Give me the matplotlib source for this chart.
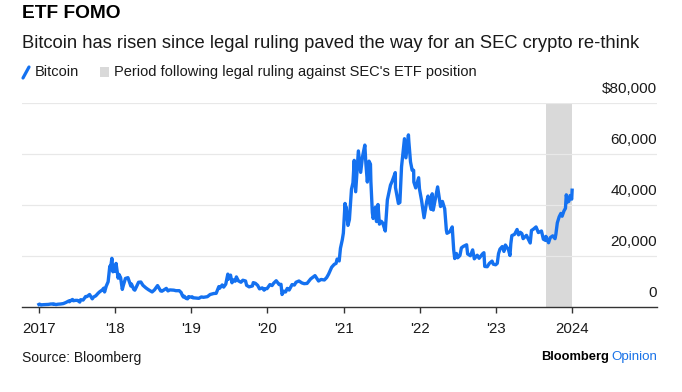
import numpy as np
import pandas as pd
import matplotlib
matplotlib.use('Agg')
import matplotlib.pyplot as plt
import matplotlib.transforms as mtransforms
from matplotlib.lines import Line2D
from matplotlib.patches import Rectangle

plt.rcParams['font.family'] = ['Liberation Sans', 'DejaVu Sans']

# bitcoin price, usd
dates_2017 = ['2017-01-01', '2017-01-04', '2017-01-11', '2017-01-20', '2017-02-01', '2017-02-15', '2017-03-01',
              '2017-03-10', '2017-03-12', '2017-03-24', '2017-04-01', '2017-04-15', '2017-04-28', '2017-05-10',
              '2017-05-25', '2017-05-27', '2017-06-06', '2017-06-11', '2017-06-15', '2017-06-25', '2017-07-05',
              '2017-07-16', '2017-07-20', '2017-08-01', '2017-08-13', '2017-08-20', '2017-09-01', '2017-09-14',
              '2017-09-20', '2017-10-01', '2017-10-12', '2017-10-20', '2017-11-01', '2017-11-08', '2017-11-12',
              '2017-11-20', '2017-11-29', '2017-12-07', '2017-12-10', '2017-12-17', '2017-12-22', '2017-12-27',
              '2017-12-31']
price_2017 = [998, 1130, 780, 900, 970, 1010, 1190, 1100, 1230, 930, 1080, 1180, 1340, 1750,
              2400, 2050, 2700, 2950, 2450, 2600, 2600, 1930, 2870, 2720, 4100, 4100, 4900, 3200,
              3900, 4400, 5400, 6000, 6700, 7400, 5900, 8200, 9900, 16000, 15000, 19100, 13800, 15700,
              14000]

dates_2018 = ['2018-01-06', '2018-01-16', '2018-01-20', '2018-01-28', '2018-02-05', '2018-02-10', '2018-02-20',
              '2018-03-04', '2018-03-18', '2018-03-21', '2018-04-01', '2018-04-06', '2018-04-24', '2018-05-05',
              '2018-05-15', '2018-05-29', '2018-06-10', '2018-06-28', '2018-07-09', '2018-07-24', '2018-08-08',
              '2018-08-14', '2018-08-29', '2018-09-04', '2018-09-12', '2018-09-21', '2018-10-10', '2018-10-20',
              '2018-11-05', '2018-11-14', '2018-11-20', '2018-11-25', '2018-11-29', '2018-12-07', '2018-12-15',
              '2018-12-20', '2018-12-28']
price_2018 = [17100, 11300, 12800, 11500, 6900, 8500, 11200, 11500, 8200, 9000, 6900, 6600, 9700, 9800,
              8500, 7500, 6800, 5900, 6700, 8400, 6300, 6200, 7000, 7300, 6300, 6700, 6600, 6400,
              6400, 5700, 4500, 3900, 4250, 3400, 3200, 4100, 3900]

dates_2019 = ['2019-01-06', '2019-01-10', '2019-01-20', '2019-02-07', '2019-02-19', '2019-03-01', '2019-03-20',
              '2019-04-02', '2019-04-20', '2019-05-01', '2019-05-14', '2019-05-17', '2019-05-30', '2019-06-06',
              '2019-06-16', '2019-06-26', '2019-06-27', '2019-07-09', '2019-07-16', '2019-07-20', '2019-07-31',
              '2019-08-06', '2019-08-15', '2019-08-28', '2019-09-06', '2019-09-19', '2019-09-24', '2019-10-06',
              '2019-10-22', '2019-10-26', '2019-11-05', '2019-11-16', '2019-11-25', '2019-12-08', '2019-12-17',
              '2019-12-20', '2019-12-31']
price_2019 = [4000, 3600, 3550, 3400, 3950, 3800, 4050, 4900, 5300, 5350, 8000, 7300, 8650, 7800,
              8950, 12900, 10800, 12500, 9500, 10700, 10100, 11800, 10300, 9700, 10500, 10200, 8500, 7900,
              8250, 9550, 9300, 8500, 7100, 7500, 6600, 7150, 7200]

dates_2020 = ['2020-01-14', '2020-01-24', '2020-02-01', '2020-02-13', '2020-02-27', '2020-03-07', '2020-03-12',
              '2020-03-20', '2020-03-29', '2020-04-06', '2020-04-15', '2020-04-29', '2020-05-10', '2020-05-18',
              '2020-06-01', '2020-06-15', '2020-06-26', '2020-07-10', '2020-07-27', '2020-08-10', '2020-08-17',
              '2020-09-03', '2020-09-15', '2020-10-01', '2020-10-12', '2020-10-21', '2020-11-05', '2020-11-17',
              '2020-11-26', '2020-12-01', '2020-12-11', '2020-12-17', '2020-12-26', '2020-12-31']
price_2020 = [8800, 8400, 9350, 10300, 8800, 8900, 4900, 6200, 5900, 7300, 6650, 8800, 8600, 9700,
              10200, 9450, 9150, 9250, 11000, 11900, 12300, 10200, 10800, 10600, 11550, 12850, 15600, 16700,
              17100, 18800, 18050, 23000, 26400, 29000]

dates_2021 = ['2021-01-08', '2021-01-11', '2021-01-14', '2021-01-22', '2021-01-29', '2021-02-08', '2021-02-15',
              '2021-02-21', '2021-02-28', '2021-03-13', '2021-03-24', '2021-04-02', '2021-04-13', '2021-04-18',
              '2021-04-25', '2021-05-03', '2021-05-10', '2021-05-12', '2021-05-19', '2021-05-23', '2021-06-03',
              '2021-06-08', '2021-06-15', '2021-06-22', '2021-07-01', '2021-07-08', '2021-07-20', '2021-07-30',
              '2021-08-14', '2021-08-22', '2021-09-06', '2021-09-07', '2021-09-21', '2021-09-28', '2021-10-06',
              '2021-10-20', '2021-10-27', '2021-11-08', '2021-11-10', '2021-11-18', '2021-11-26', '2021-12-03',
              '2021-12-04', '2021-12-13', '2021-12-27', '2021-12-31']
price_2021 = [40600, 35500, 39200, 32000, 34300, 46200, 48700, 57500, 45200, 61200, 52800, 59000, 63500, 56200,
              49000, 57200, 56000, 49200, 37000, 34700, 39200, 33500, 40200, 32500, 33600, 32900, 29800, 42000,
              47800, 49300, 52700, 46800, 40600, 41000, 55000, 66000, 58500, 67500, 64900, 56900, 53600, 53600,
              49000, 46700, 50700, 46300]

dates_2022 = ['2022-01-10', '2022-01-22', '2022-02-04', '2022-02-10', '2022-02-24', '2022-03-02', '2022-03-07',
              '2022-03-28', '2022-04-11', '2022-04-20', '2022-05-01', '2022-05-09', '2022-05-12', '2022-05-25',
              '2022-06-06', '2022-06-13', '2022-06-18', '2022-06-26', '2022-07-02', '2022-07-13', '2022-07-20',
              '2022-07-30', '2022-08-14', '2022-08-19', '2022-09-01', '2022-09-12', '2022-09-20', '2022-10-04',
              '2022-10-13', '2022-10-29', '2022-11-05', '2022-11-09', '2022-11-21', '2022-12-01', '2022-12-14',
              '2022-12-20', '2022-12-31']
price_2022 = [41800, 35000, 41500, 43500, 38300, 44400, 38000, 47100, 39400, 41400, 38500, 30100, 28900, 29500,
              31400, 22500, 19000, 21000, 19300, 20200, 23200, 23800, 24400, 20800, 20100, 22400, 18900, 20300,
              19100, 20800, 21300, 15900, 15800, 17100, 18000, 16800, 16550]

dates_2023 = ['2023-01-08', '2023-01-14', '2023-01-21', '2023-02-01', '2023-02-09', '2023-02-16', '2023-03-03',
              '2023-03-10', '2023-03-14', '2023-03-19', '2023-04-01', '2023-04-13', '2023-04-20', '2023-04-28',
              '2023-05-06', '2023-05-12', '2023-05-28', '2023-06-07', '2023-06-15', '2023-06-21', '2023-06-30',
              '2023-07-13', '2023-07-24', '2023-08-08', '2023-08-17', '2023-08-28', '2023-08-29', '2023-09-11',
              '2023-09-19', '2023-10-01', '2023-10-12', '2023-10-16', '2023-10-23', '2023-11-01', '2023-11-09',
              '2023-11-15', '2023-11-24', '2023-12-01', '2023-12-05', '2023-12-11', '2023-12-17', '2023-12-23',
              '2023-12-31', '2024-01-02']
price_2023 = [17100, 20900, 22700, 23700, 21800, 24300, 22400, 20200, 24800, 28000, 28500, 30400, 28300, 29300,
              28800, 26800, 28100, 26400, 25100, 30000, 30500, 31400, 29200, 29800, 26600, 26100, 27700, 25200,
              27200, 27900, 26800, 28500, 33000, 35400, 36700, 35600, 37700, 38700, 44000, 41200, 41400, 43700,
              42300, 45800]

shade_start = '2023-08-29'
shade_end = '2024-01-03'

years = [2017, 2018, 2019, 2020, 2021, 2022, 2023, 2024]
year_labels = ['2017', "'18", "'19", "'20", "'21", "'22", "'23", '2024']
y_levels = [0, 20000, 40000, 60000, 80000]
y_labels = ['0', '20,000', '40,000', '60,000', '$80,000']

dates = pd.to_datetime(dates_2017 + dates_2018 + dates_2019 + dates_2020 + dates_2021 + dates_2022 + dates_2023)
price = np.array(price_2017 + price_2018 + price_2019 + price_2020 + price_2021 + price_2022 + price_2023)

blue = '#1471f0'
grey_txt = '#1a1a1a'

fig = plt.figure(figsize=(6.82, 3.92), dpi=100)
ax = fig.add_axes([22 / 682, 85 / 392, 635 / 682, 204 / 392])

ax.axvspan(pd.Timestamp(shade_start), pd.Timestamp(shade_end), color='#d9d9d9', lw=0, zorder=0)
ax.plot(dates, price, color=blue, lw=2.4, solid_joinstyle='round', zorder=3)

ax.set_xlim(pd.Timestamp('2016-10-12'), pd.Timestamp('2025-02-12'))
ax.set_ylim(0, 80000)

for v in y_levels[1:]:
    ax.axhline(v, color='#e8e8e8', lw=0.9, zorder=1)

# y labels sit on top of the gridlines, right side
trans = mtransforms.blended_transform_factory(ax.transAxes, ax.transData)
trans = trans + mtransforms.ScaledTranslation(0, 5 / 72, fig.dpi_scale_trans)
for v, lab in zip(y_levels, y_labels):
    ax.text(1.0, v, lab, transform=trans, ha='right', va='bottom', fontsize=11,
            color=grey_txt, clip_on=False)

ax.set_xticks([pd.Timestamp(f'{y}-01-01') for y in years])
ax.set_xticklabels(year_labels)
ax.set_yticks([])
ax.tick_params(axis='x', length=4, width=1, color='#333333', labelsize=10.8, labelcolor=grey_txt, pad=7)
for s in ['top', 'right', 'left']:
    ax.spines[s].set_visible(False)
ax.spines['bottom'].set_color('#333333')
ax.spines['bottom'].set_linewidth(1)

# headers
fig.text(22 / 682, 1 - 14 / 392, 'ETF FOMO', fontsize=13.8, fontweight='bold', va='center', ha='left', color='black')
fig.text(22 / 682, 1 - 44 / 392, 'Bitcoin has risen since legal ruling paved the way for an SEC crypto re-think',
         fontsize=13.2, va='center', ha='left', color=grey_txt)

# legend
fig.add_artist(Line2D([23 / 682, 29 / 682], [1 - 78 / 392, 1 - 67 / 392], color=blue, lw=2.3,
                      solid_capstyle='round'))
fig.text(35 / 682, 1 - 72 / 392, 'Bitcoin', fontsize=10.5, va='center', ha='left', color=grey_txt)
fig.add_artist(Rectangle((100 / 682, 1 - 77 / 392), 9 / 682, 10 / 392, color='#d9d9d9', lw=0,
                         transform=fig.transFigure))
fig.text(114 / 682, 1 - 72 / 392, "Period following legal ruling against SEC's ETF position",
         fontsize=10.5, va='center', ha='left', color=grey_txt)

# footer
fig.text(22 / 682, 1 - 358 / 392, 'Source: Bloomberg', fontsize=10, va='center', ha='left', color=grey_txt)
op = fig.text(657 / 682, 1 - 357 / 392, 'Opinion', fontsize=9.6, va='center', ha='right', color='#1a73e8')
r = fig.canvas.get_renderer()
bb = op.get_window_extent(renderer=r)
fig.text((bb.x0 - 2) / 682, 1 - 357 / 392, 'Bloomberg', fontsize=9.3, fontweight='bold',
         va='center', ha='right', color='black')

fig.savefig('out.png', dpi=100, facecolor='white')
